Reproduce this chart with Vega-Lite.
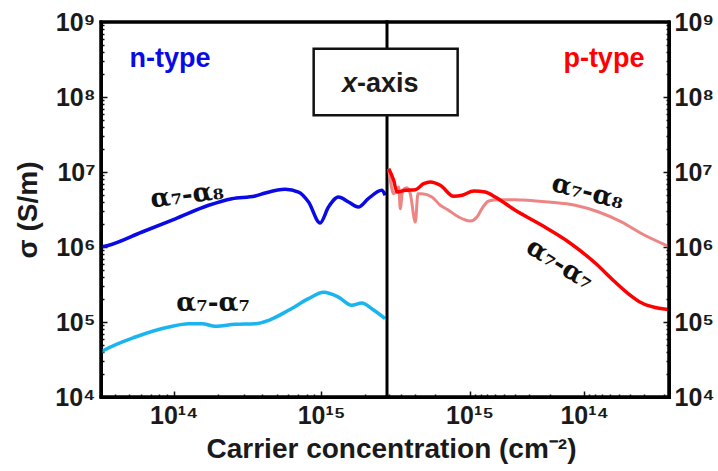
{
  "$schema": "https://vega.github.io/schema/vega-lite/v6.json",
  "background": "white",
  "padding": {"left": 14, "top": 10, "right": 5, "bottom": 5},
  "width": 568,
  "height": 375,
  "config": {
    "view": {"stroke": "black", "strokeWidth": 3},
    "axis": {
      "labelFont": "Liberation Sans", "labelFontWeight": "bold", "labelFontSize": 25, "labelColor": "#1a1a1a",
      "titleFont": "Liberation Sans", "titleFontWeight": "bold", "titleFontSize": 28, "titleColor": "#1a1a1a",
      "domain": true, "domainColor": "black", "domainWidth": 3, "domainCap": "square",
      "grid": false, "tickColor": "#111", "tickWidth": 1.5,
      "labelOverlap": false, "labelFlush": false, "zindex": 1
    }
  },
  "datasets": {
    "n_a7a8": [
      {"n": 3.21e13, "sigma": 1.0e6}, {"n": 3.53e13, "sigma": 1.04e6}, {"n": 6.10e13, "sigma": 1.585e6},
      {"n": 1.026e14, "sigma": 2.38e6}, {"n": 1.726e14, "sigma": 3.6e6}, {"n": 2.48e14, "sigma": 4.41e6},
      {"n": 3.57e14, "sigma": 4.79e6}, {"n": 4.18e14, "sigma": 5.25e6}, {"n": 5.70e14, "sigma": 5.87e6},
      {"n": 7.03e14, "sigma": 5.41e6}, {"n": 8.22e14, "sigma": 3.98e6}, {"n": 9.84e14, "sigma": 2.09e6},
      {"n": 1.122e15, "sigma": 3.41e6}, {"n": 1.312e15, "sigma": 4.65e6}, {"n": 1.535e15, "sigma": 3.98e6},
      {"n": 1.79e15, "sigma": 3.41e6}, {"n": 2.09e15, "sigma": 4.41e6}, {"n": 2.58e15, "sigma": 5.70e6},
      {"n": 2.72e15, "sigma": 4.90e6}
    ],
    "n_a7a7": [
      {"n": 3.21e13, "sigma": 3.98e4}, {"n": 3.36e13, "sigma": 4.19e4}, {"n": 5.50e13, "sigma": 6.31e4},
      {"n": 9.25e13, "sigma": 8.57e4}, {"n": 1.265e14, "sigma": 9.48e4}, {"n": 1.556e14, "sigma": 9.48e4},
      {"n": 1.914e14, "sigma": 8.77e4}, {"n": 2.61e14, "sigma": 9.31e4}, {"n": 3.57e14, "sigma": 9.48e4},
      {"n": 4.41e14, "sigma": 1.054e5}, {"n": 6.01e14, "sigma": 1.432e5}, {"n": 8.22e14, "sigma": 2.05e5},
      {"n": 1.038e15, "sigma": 2.49e5}, {"n": 1.312e15, "sigma": 2.15e5}, {"n": 1.614e15, "sigma": 1.67e5},
      {"n": 1.888e15, "sigma": 1.79e5}, {"n": 2.21e15, "sigma": 1.50e5}, {"n": 2.72e15, "sigma": 1.107e5}
    ],
    "p_a7a8": [
      {"n": 5.07e15, "sigma": 1.107e7}, {"n": 4.91e15, "sigma": 7.74e6}, {"n": 4.59e15, "sigma": 5.14e6},
      {"n": 4.30e15, "sigma": 5.70e6}, {"n": 4.15e15, "sigma": 6.31e6}, {"n": 4.02e15, "sigma": 3.24e6},
      {"n": 3.83e15, "sigma": 5.70e6}, {"n": 3.52e15, "sigma": 6.18e6}, {"n": 3.29e15, "sigma": 5.14e6},
      {"n": 2.97e15, "sigma": 2.15e6}, {"n": 2.82e15, "sigma": 5.14e6}, {"n": 2.60e15, "sigma": 5.14e6},
      {"n": 2.13e15, "sigma": 4.65e6}, {"n": 1.80e15, "sigma": 3.60e6}, {"n": 1.52e15, "sigma": 3.08e6},
      {"n": 1.245e15, "sigma": 2.51e6}, {"n": 9.86e14, "sigma": 2.22e6}, {"n": 8.61e14, "sigma": 2.51e6},
      {"n": 7.80e14, "sigma": 3.24e6}, {"n": 6.81e14, "sigma": 4.10e6}, {"n": 5.57e14, "sigma": 4.28e6},
      {"n": 3.99e14, "sigma": 4.28e6}, {"n": 2.04e14, "sigma": 3.98e6}, {"n": 1.197e14, "sigma": 3.60e6},
      {"n": 7.48e13, "sigma": 2.93e6}, {"n": 4.69e13, "sigma": 2.15e6}, {"n": 3.14e13, "sigma": 1.50e6},
      {"n": 1.837e13, "sigma": 1.02e6}
    ],
    "p_a7a7": [
      {"n": 5.07e15, "sigma": 1.107e7}, {"n": 4.59e15, "sigma": 7.74e6}, {"n": 4.30e15, "sigma": 5.41e6},
      {"n": 3.63e15, "sigma": 5.70e6}, {"n": 2.97e15, "sigma": 5.81e6}, {"n": 2.51e15, "sigma": 6.98e6},
      {"n": 2.20e15, "sigma": 7.36e6}, {"n": 1.80e15, "sigma": 6.65e6}, {"n": 1.374e15, "sigma": 4.74e6},
      {"n": 1.164e15, "sigma": 4.89e6}, {"n": 9.20e14, "sigma": 5.58e6}, {"n": 7.29e14, "sigma": 5.41e6},
      {"n": 5.97e14, "sigma": 4.65e6}, {"n": 3.99e14, "sigma": 3.08e6}, {"n": 2.34e14, "sigma": 1.945e6},
      {"n": 1.368e14, "sigma": 1.167e6}, {"n": 8.02e13, "sigma": 6.12e5}, {"n": 5.37e13, "sigma": 3.41e5},
      {"n": 4.11e13, "sigma": 2.38e5}, {"n": 3.14e13, "sigma": 1.79e5}, {"n": 2.40e13, "sigma": 1.56e5},
      {"n": 1.837e13, "sigma": 1.47e5}
    ],
    "n_frame": [
      {"n": 3.21e13, "n2": 2.8e15, "sigma": 1e9, "sigma2": 1e9},
      {"n": 3.21e13, "n2": 2.8e15, "sigma": 1e4, "sigma2": 1e4},
      {"n": 3.21e13, "n2": 3.21e13, "sigma": 1e4, "sigma2": 1e9},
      {"n": 2.8e15, "n2": 2.8e15, "sigma": 1e4, "sigma2": 1e9}
    ],
    "p_frame": [
      {"n": 5.25e15, "n2": 1.82e13, "sigma": 1e9, "sigma2": 1e9},
      {"n": 5.25e15, "n2": 1.82e13, "sigma": 1e4, "sigma2": 1e4},
      {"n": 1.82e13, "n2": 1.82e13, "sigma": 1e4, "sigma2": 1e9}
    ]
  },
  "resolve": {"scale": {"x": "independent"}, "axis": {"x": "independent", "y": "independent"}},
  "layer": [
    {
      "layer": [
        {
          "data": {"name": "n_a7a8"},
          "mark": {"type": "line", "color": "#0a0ae6", "strokeWidth": 3.5, "interpolate": "monotone"},
          "encoding": {
            "x": {
              "field": "n", "type": "quantitative",
              "scale": {"type": "log", "domain": [3.21e13, 2.8e15], "range": [0, 286], "nice": false},
              "axis": {
                "orient": "bottom",
                "values": [4e13, 5e13, 6e13, 7e13, 8e13, 9e13, 1e14, 2e14, 3e14, 4e14, 5e14, 6e14, 7e14, 8e14, 9e14, 1e15, 2e15],
                "labelExpr": "abs(log(datum.value)/LN10 - round(log(datum.value)/LN10)) < 0.01 ? '10¹' + substring('⁰¹²³⁴⁵⁶⁷⁸⁹', round(log(datum.value)/LN10) - 10, round(log(datum.value)/LN10) - 9) : ''",
                "tickSize": {"condition": {"test": "abs(log(datum.value)/LN10 - round(log(datum.value)/LN10)) < 0.01", "value": -6}, "value": -3},
                "labelPadding": 12,
                "title": "Carrier concentration (cm⁻²)",
                "titleX": 290, "titleAlign": "center", "titlePadding": 4
              }
            },
            "y": {
              "field": "sigma", "type": "quantitative",
              "scale": {"type": "log", "domain": [1e4, 1e9], "nice": false},
              "axis": {
                "orient": "left",
                "values": [1e4, 2e4, 3e4, 4e4, 5e4, 6e4, 7e4, 8e4, 9e4, 1e5, 2e5, 3e5, 4e5, 5e5, 6e5, 7e5, 8e5, 9e5, 1e6, 2e6, 3e6, 4e6, 5e6, 6e6, 7e6, 8e6, 9e6, 1e7, 2e7, 3e7, 4e7, 5e7, 6e7, 7e7, 8e7, 9e7, 1e8, 2e8, 3e8, 4e8, 5e8, 6e8, 7e8, 8e8, 9e8, 1e9],
                "labelExpr": "abs(log(datum.value)/LN10 - round(log(datum.value)/LN10)) < 0.01 ? '10' + substring('⁰¹²³⁴⁵⁶⁷⁸⁹', round(log(datum.value)/LN10), round(log(datum.value)/LN10) + 1) : ''",
                "tickSize": {"condition": {"test": "abs(log(datum.value)/LN10 - round(log(datum.value)/LN10)) < 0.01", "value": -6}, "value": -3},
                "labelPadding": 12,
                "title": "σ (S/m)",
                "titlePadding": 12
              }
            }
          }
        },
        {
          "data": {"name": "n_a7a7"},
          "mark": {"type": "line", "color": "#1ab4ee", "strokeWidth": 3.5, "interpolate": "monotone"},
          "encoding": {
            "x": {"field": "n", "type": "quantitative"},
            "y": {"field": "sigma", "type": "quantitative"}
          }
        },
        {
          "data": {"name": "n_frame"},
          "mark": {"type": "rule", "color": "black", "strokeWidth": 3, "strokeCap": "square"},
          "encoding": {
            "x": {"field": "n", "type": "quantitative"},
            "x2": {"field": "n2"},
            "y": {"field": "sigma", "type": "quantitative"},
            "y2": {"field": "sigma2"}
          }
        },
        {
          "data": {"values": [{"n": 9.44e13, "sigma": 3.21e8, "label": "n-type"}]},
          "mark": {"type": "text", "color": "#0a0ae6", "font": "Liberation Sans", "fontWeight": "bold", "fontSize": 27, "baseline": "middle", "align": "center"},
          "encoding": {
            "x": {"field": "n", "type": "quantitative"},
            "y": {"field": "sigma", "type": "quantitative"},
            "text": {"field": "label"}
          }
        },
        {
          "data": {"values": [{"n": 1.233e14, "sigma": 4.93e6, "label": "α₇-α₈"}]},
          "mark": {"type": "text", "color": "#111", "font": "DejaVu Serif", "fontWeight": "bold", "fontSize": 26, "baseline": "middle", "align": "center", "angle": 353},
          "encoding": {
            "x": {"field": "n", "type": "quantitative"},
            "y": {"field": "sigma", "type": "quantitative"},
            "text": {"field": "label"}
          }
        },
        {
          "data": {"values": [{"n": 1.85e14, "sigma": 1.79e5, "label": "α₇-α₇"}]},
          "mark": {"type": "text", "color": "#111", "font": "DejaVu Serif", "fontWeight": "bold", "fontSize": 26, "baseline": "middle", "align": "center"},
          "encoding": {
            "x": {"field": "n", "type": "quantitative"},
            "y": {"field": "sigma", "type": "quantitative"},
            "text": {"field": "label"}
          }
        }
      ]
    },
    {
      "layer": [
        {
          "data": {"name": "p_a7a8"},
          "mark": {"type": "line", "color": "#ee8585", "strokeWidth": 3, "interpolate": "monotone"},
          "encoding": {
            "x": {
              "field": "n", "type": "quantitative",
              "scale": {"type": "log", "domain": [1.82e13, 5.25e15], "range": [568, 286], "nice": false},
              "axis": {
                "orient": "bottom",
                "values": [2e13, 3e13, 4e13, 5e13, 6e13, 7e13, 8e13, 9e13, 1e14, 2e14, 3e14, 4e14, 5e14, 6e14, 7e14, 8e14, 9e14, 1e15, 2e15, 3e15, 4e15, 5e15],
                "labelExpr": "abs(log(datum.value)/LN10 - round(log(datum.value)/LN10)) < 0.01 ? '10¹' + substring('⁰¹²³⁴⁵⁶⁷⁸⁹', round(log(datum.value)/LN10) - 10, round(log(datum.value)/LN10) - 9) : ''",
                "tickSize": {"condition": {"test": "abs(log(datum.value)/LN10 - round(log(datum.value)/LN10)) < 0.01", "value": -6}, "value": -3},
                "labelPadding": 12,
                "title": null
              }
            },
            "y": {
              "field": "sigma", "type": "quantitative",
              "scale": {"type": "log", "domain": [1e4, 1e9], "nice": false},
              "axis": {
                "orient": "right",
                "values": [1e4, 2e4, 3e4, 4e4, 5e4, 6e4, 7e4, 8e4, 9e4, 1e5, 2e5, 3e5, 4e5, 5e5, 6e5, 7e5, 8e5, 9e5, 1e6, 2e6, 3e6, 4e6, 5e6, 6e6, 7e6, 8e6, 9e6, 1e7, 2e7, 3e7, 4e7, 5e7, 6e7, 7e7, 8e7, 9e7, 1e8, 2e8, 3e8, 4e8, 5e8, 6e8, 7e8, 8e8, 9e8, 1e9],
                "labelExpr": "abs(log(datum.value)/LN10 - round(log(datum.value)/LN10)) < 0.01 ? '10' + substring('⁰¹²³⁴⁵⁶⁷⁸⁹', round(log(datum.value)/LN10), round(log(datum.value)/LN10) + 1) : ''",
                "tickSize": {"condition": {"test": "abs(log(datum.value)/LN10 - round(log(datum.value)/LN10)) < 0.01", "value": -6}, "value": -3},
                "labelPadding": 11,
                "title": null
              }
            }
          }
        },
        {
          "data": {"name": "p_a7a7"},
          "mark": {"type": "line", "color": "#ff0000", "strokeWidth": 3.5, "interpolate": "monotone"},
          "encoding": {
            "x": {"field": "n", "type": "quantitative"},
            "y": {"field": "sigma", "type": "quantitative"}
          }
        },
        {
          "data": {"name": "p_frame"},
          "mark": {"type": "rule", "color": "black", "strokeWidth": 3, "strokeCap": "square"},
          "encoding": {
            "x": {"field": "n", "type": "quantitative"},
            "x2": {"field": "n2"},
            "y": {"field": "sigma", "type": "quantitative"},
            "y2": {"field": "sigma2"}
          }
        },
        {
          "data": {"values": [{"n": 2.29e16, "n2": 1.27e15, "sigma": 4.41e8, "sigma2": 5.70e7}]},
          "mark": {"type": "rect", "fill": "white", "stroke": "#111", "strokeWidth": 2.5},
          "encoding": {
            "x": {"field": "n", "type": "quantitative"},
            "x2": {"field": "n2"},
            "y": {"field": "sigma", "type": "quantitative"},
            "y2": {"field": "sigma2"}
          }
        },
        {
          "data": {"values": [{"n": 9.59e15, "sigma": 1.50e8, "label": "x"}]},
          "mark": {"type": "text", "color": "#1a1a1a", "font": "Liberation Sans", "fontWeight": "bold", "fontStyle": "italic", "fontSize": 27, "baseline": "middle", "align": "right"},
          "encoding": {
            "x": {"field": "n", "type": "quantitative"},
            "y": {"field": "sigma", "type": "quantitative"},
            "text": {"field": "label"}
          }
        },
        {
          "data": {"values": [{"n": 9.59e15, "sigma": 1.50e8, "label": "-axis"}]},
          "mark": {"type": "text", "color": "#1a1a1a", "font": "Liberation Sans", "fontWeight": "bold", "fontSize": 27, "baseline": "middle", "align": "left"},
          "encoding": {
            "x": {"field": "n", "type": "quantitative"},
            "y": {"field": "sigma", "type": "quantitative"},
            "text": {"field": "label"}
          }
        },
        {
          "data": {"values": [{"n": 6.73e13, "sigma": 3.21e8, "label": "p-type"}]},
          "mark": {"type": "text", "color": "#ff0000", "font": "Liberation Sans", "fontWeight": "bold", "fontSize": 27, "baseline": "middle", "align": "center"},
          "encoding": {
            "x": {"field": "n", "type": "quantitative"},
            "y": {"field": "sigma", "type": "quantitative"},
            "text": {"field": "label"}
          }
        },
        {
          "data": {"values": [{"n": 9.29e13, "sigma": 5.41e6, "label": "α₇-α₈"}]},
          "mark": {"type": "text", "color": "#111", "font": "DejaVu Serif", "fontWeight": "bold", "fontSize": 26, "baseline": "middle", "align": "center", "angle": 15},
          "encoding": {
            "x": {"field": "n", "type": "quantitative"},
            "y": {"field": "sigma", "type": "quantitative"},
            "text": {"field": "label"}
          }
        },
        {
          "data": {"values": [{"n": 1.63e14, "sigma": 5.93e5, "label": "α₇-α₇"}]},
          "mark": {"type": "text", "color": "#111", "font": "DejaVu Serif", "fontWeight": "bold", "fontSize": 26, "baseline": "middle", "align": "center", "angle": 32},
          "encoding": {
            "x": {"field": "n", "type": "quantitative"},
            "y": {"field": "sigma", "type": "quantitative"},
            "text": {"field": "label"}
          }
        }
      ]
    }
  ]
}
